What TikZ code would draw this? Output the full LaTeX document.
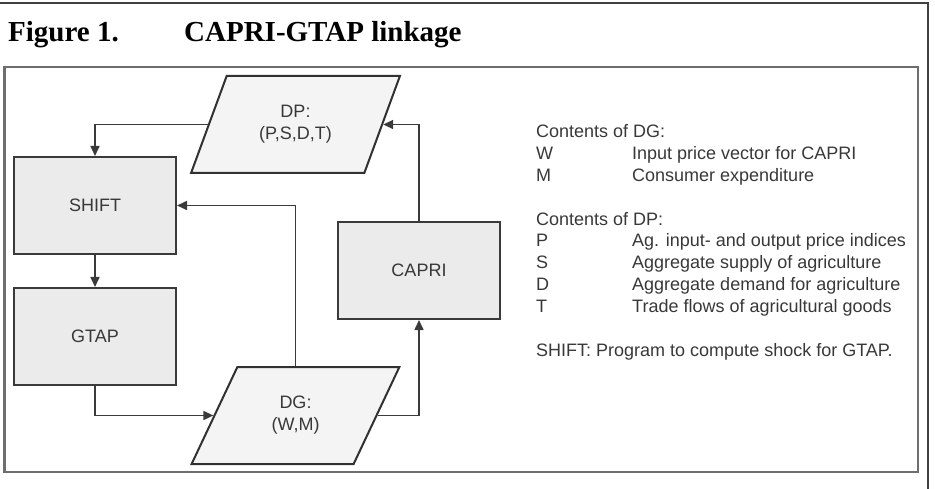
\documentclass[tikz,border=0pt]{standalone}
\usepackage{fontspec}
\setmainfont{Liberation Sans}
\newfontfamily\serifbf{Liberation Serif}
\usepackage{tikz}
\usetikzlibrary{arrows.meta,positioning,shapes.geometric}
\definecolor{txtgray}{HTML}{383838}
\definecolor{linegray}{HTML}{3A3A3A}
\definecolor{framegray}{HTML}{6E6E6E}
\definecolor{boxfill}{HTML}{EBEBEB}
\definecolor{datafill}{HTML}{F4F4F4}

\begin{document}
\begin{tikzpicture}[x=1pt,y=1pt,>={Triangle[length=10pt,width=9pt]},
  font=\fontsize{18}{21.9}\selectfont,
  prog/.style={draw=linegray,line width=2pt,fill=boxfill,text=txtgray,minimum width=162pt,minimum height=97pt,inner sep=0pt},
  data/.style={trapezium,trapezium left angle=63.7,trapezium right angle=116.3,trapezium stretches=true,draw=linegray!85!black,line width=2pt,fill=datafill,text=txtgray,align=center,minimum width=209pt,minimum height=97pt,inner sep=0pt},
  flow/.style={->,line width=1.6pt,draw=linegray},
  ttl/.style={font=\serifbf\bfseries\fontsize{29}{34}\selectfont,anchor=base west,inner sep=0pt}]
  \useasboundingbox (0,0) rectangle (935,-489);

  % frames
  \draw[line width=2.2pt,draw=black!75] (0,-3) -- (928,-3) -- (928,-489);
  \draw[line width=2.4pt,draw=framegray] (4.5,-67) rectangle (918,-472);

  \node[ttl] (fig) at (8,-42) {Figure 1.};
  \node[ttl] (title) at (184,-42) {CAPRI-GTAP linkage};

  \node[prog] (shift) at (95,-205.5) {SHIFT};
  \node[prog,below=32pt of shift] (gtap) {GTAP};
  \node[prog] (capri) at (419,-270.5) {CAPRI};
  \node[data] (dp) at (295.5,-124.5) {DP:\\(P,S,D,T)};
  \node[data] (dg) at (295.5,-415.5) {DG:\\(W,M)};

  \draw[flow] (dp.west) -| (shift.north);
  \draw[flow] (shift) -- (gtap);
  \draw[flow] (gtap.south) |- (dg.west);
  \draw[flow] (dg.east) -| (capri.south);
  \draw[flow] (capri.north) |- (dp.east);
  \draw[flow] (dg.center |- dg.north) |- (shift.east);

  % legend
  \node[anchor=base west,inner sep=0pt,text=txtgray] (legend) at (536,-137.5) {%
    \begin{tabular}[t]{@{}p{96pt}@{}l@{}}
    \multicolumn{2}{@{}l@{}}{Contents of DG:}\\
    W & Input price vector for CAPRI\\
    M & Consumer expenditure\\
     & \\
    \multicolumn{2}{@{}l@{}}{Contents of DP:}\\
    P & Ag. input- and output price indices\\
    S & Aggregate supply of agriculture\\
    D & Aggregate demand for agriculture\\
    T & Trade flows of agricultural goods\\
     & \\
    \multicolumn{2}{@{}l@{}}{SHIFT: Program to compute shock for GTAP.}
    \end{tabular}};
\end{tikzpicture}
\end{document}
